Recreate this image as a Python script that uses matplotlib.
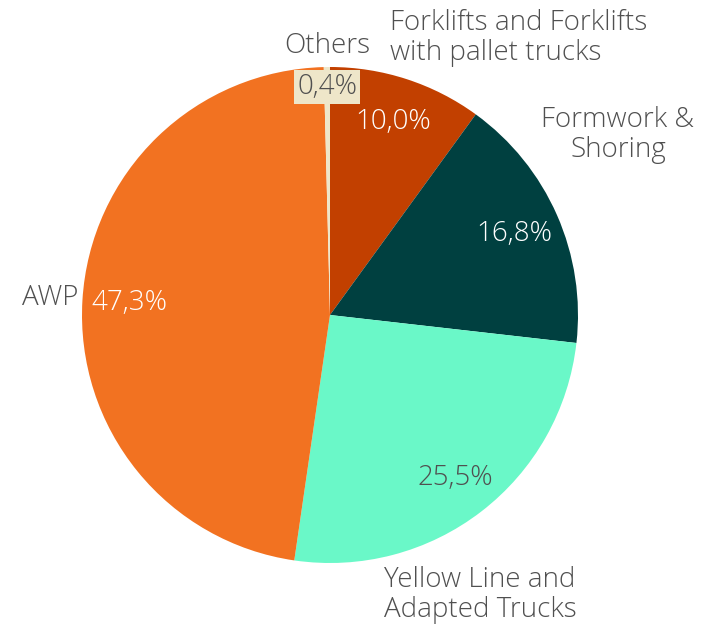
import matplotlib
matplotlib.use("Agg")
import matplotlib.pyplot as plt
import numpy as np

categories = ["Forklifts and Forklifts\nwith pallet trucks", "Formwork &\nShoring",
              "Yellow Line and\nAdapted Trucks", "AWP", "Others"]
values = [10.0, 16.8, 25.5, 47.3, 0.4]
colors = ["#C24000", "#004040", "#6AF8C8", "#F27221", "#EEE6C9"]
pct_colors = ["white", "white", "#505050", "white", "#505050"]

W, H = 702, 628
cx, cy, R = 330, 315, 248
fig = plt.figure(figsize=(W / 100, H / 100), dpi=100)
ax = fig.add_axes([(cx - R) / W, (H - cy - R) / H, 2 * R / W, 2 * R / H])

wedges, _ = ax.pie(values, colors=colors, startangle=90, counterclock=False,
                   radius=1, wedgeprops=dict(linewidth=0))
ax.set_xlim(-1, 1)
ax.set_ylim(-1, 1)
ax.set_aspect("equal")
ax.axis("off")

font = dict(family=["Open Sans", "DejaVu Sans"], fontweight="light", fontsize=20)
text_color = "#505050"

# percentage labels
pct_dist = [0.82, 0.81, 0.83, 0.81, 0.92]
for w, v, d, c in zip(wedges, values, pct_dist, pct_colors):
    ang = np.deg2rad((w.theta1 + w.theta2) / 2)
    x, y = d * np.cos(ang), d * np.sin(ang)
    s = f"{v:.1f}%".replace(".", ",")
    kw = {}
    if v < 1:
        kw["bbox"] = dict(boxstyle="square,pad=0.12", fc="#EEE6C9", ec="none")
    ax.text(x, y, s, ha="center", va="center", color=c, **font, **kw)

# category labels (positions in axes data units)
label_pos = [((390 - cx) / R, (cy - 38) / R, "left"),
             ((618 - cx) / R, (cy - 135) / R, "center"),
             ((480 - cx) / R, (cy - 595) / R, "center"),
             ((78 - cx) / R, (cy - 298) / R, "right"),
             ((327 - cx) / R, (cy - 46) / R, "center")]
for cat, (x, y, ha) in zip(categories, label_pos):
    ax.text(x, y, cat, ha=ha, va="center", color=text_color,
            linespacing=1.12, clip_on=False, **font)

fig.savefig("out.png", dpi=100)
